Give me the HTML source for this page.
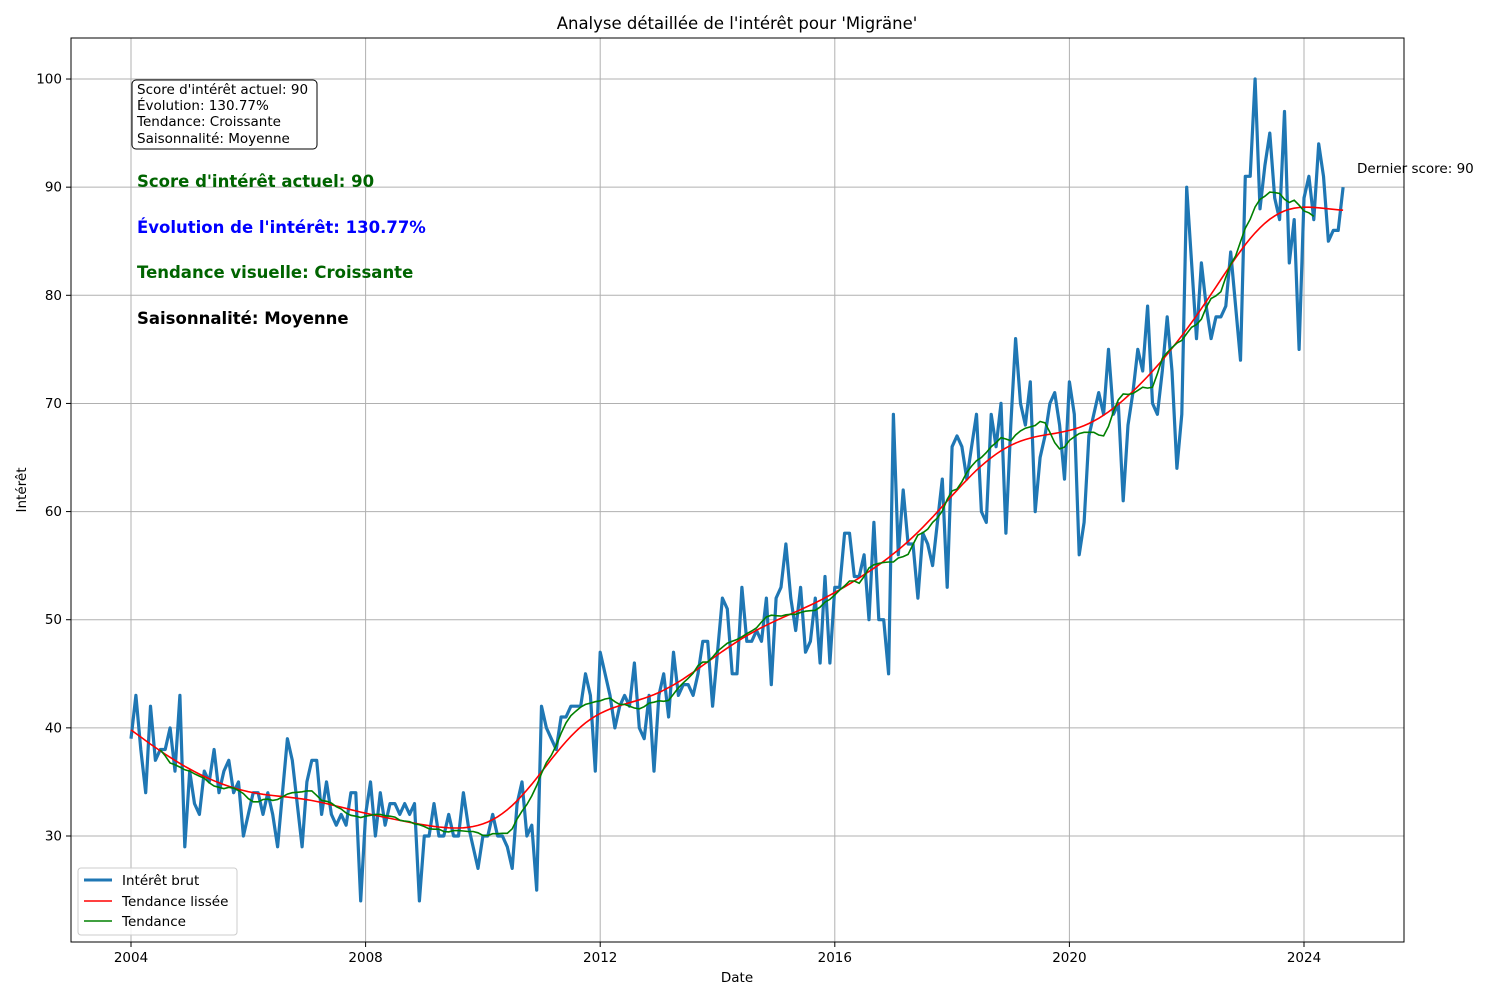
<!DOCTYPE html>
<html><head><meta charset="utf-8"><style>
body{margin:0;background:#fff;}
svg text{font-family:"DejaVu Sans","Liberation Sans",sans-serif;}
</style></head><body>
<svg id="chart" width="1500" height="1000" xmlns="http://www.w3.org/2000/svg">
<rect width="1500" height="1000" fill="#fff"/>
<g id="grid"></g>
<g id="series"></g>
<rect x="71" y="38" width="1333" height="904" fill="none" stroke="#000" stroke-width="1"/>
<g id="axes"></g>
<text x="737" y="29" text-anchor="middle" font-size="16.5">Analyse détaillée de l'intérêt pour 'Migräne'</text>
<text x="737" y="982" text-anchor="middle" font-size="13.5">Date</text>
<text x="26" y="490" text-anchor="middle" font-size="13.5" transform="rotate(-90 26 490)">Intérêt</text>
<g>
<rect x="132" y="80" width="185" height="69" rx="4" fill="#fff" stroke="#000" stroke-width="1"/>
<text x="137" y="94" font-size="13.5">Score d'intérêt actuel: 90</text>
<text x="137" y="110" font-size="13.5">Évolution: 130.77%</text>
<text x="137" y="126" font-size="13.5">Tendance: Croissante</text>
<text x="137" y="143" font-size="13.5">Saisonnalité: Moyenne</text>
</g>
<text x="137" y="187" font-size="16.5" font-weight="bold" fill="#006400">Score d'intérêt actuel: 90</text>
<text x="137" y="233" font-size="16.5" font-weight="bold" fill="#0000ff">Évolution de l'intérêt: 130.77%</text>
<text x="137" y="278" font-size="16.5" font-weight="bold" fill="#006400">Tendance visuelle: Croissante</text>
<text x="137" y="324" font-size="16.5" font-weight="bold" fill="#000">Saisonnalité: Moyenne</text>
<text x="1357" y="173" font-size="13.5">Dernier score: 90</text>
<g>
<rect x="78" y="868" width="159" height="67" rx="3" fill="#fff" fill-opacity="0.85" stroke="#ccc"/>
<line x1="84" y1="880" x2="112" y2="880" stroke="#1f77b4" stroke-width="3"/>
<text x="122" y="885" font-size="13.5">Intérêt brut</text>
<line x1="84" y1="901" x2="112" y2="901" stroke="#ff0000" stroke-width="1.5"/>
<text x="122" y="906" font-size="13.5">Tendance lissée</text>
<line x1="84" y1="921" x2="112" y2="921" stroke="#008000" stroke-width="1.5"/>
<text x="122" y="926" font-size="13.5">Tendance</text>
</g>
</svg>
<script>
const startYear = 2004;
const xTicks = [2004, 2008, 2012, 2016, 2020, 2024];
const yTicks = [30, 40, 50, 60, 70, 80, 90, 100];
const rawValues = [
39,43,38,34,42,37,38,38,40,36,43,29,
36,33,32,36,35,38,34,36,37,34,35,30,
32,34,34,32,34,32,29,34,39,37,33,29,
35,37,37,32,35,32,31,32,31,34,34,24,
32,35,30,34,31,33,33,32,33,32,33,24,
30,30,33,30,30,32,30,30,34,31,29,27,
30,30,32,30,30,29,27,33,35,30,31,25,
42,40,39,38,41,41,42,42,42,45,43,36,
47,45,43,40,42,43,42,46,40,39,43,36,
43,45,41,47,43,44,44,43,45,48,48,42,
47,52,51,45,45,53,48,48,49,48,52,44,
52,53,57,52,49,53,47,48,52,46,54,46,
53,53,58,58,54,54,56,50,59,50,50,45,
69,56,62,57,57,52,58,57,55,59,63,53,
66,67,66,63,66,69,60,59,69,66,70,58,
68,76,70,68,72,60,65,67,70,71,68,63,
72,69,56,59,67,69,71,69,75,69,70,61,
68,71,75,73,79,70,69,73,78,73,64,69,
90,83,76,83,79,76,78,78,79,84,79,74,
91,91,100,88,92,95,89,87,97,83,87,75,
89,91,87,94,91,85,86,86,90];

const X0=131, PX_PER_YEAR=58.65, Y30=836, PX_PER_UNIT=10.814;
function xs(t){return X0+(t-startYear)*PX_PER_YEAR;}
function ys(v){return Y30-(v-30)*PX_PER_UNIT;}
function mt(i){return startYear+i/12;}
const NS="http://www.w3.org/2000/svg";
const grid=document.getElementById('grid'), axes=document.getElementById('axes'), series=document.getElementById('series');
function mk(tag,attrs,parent){const e=document.createElementNS(NS,tag);for(const k in attrs)e.setAttribute(k,attrs[k]);parent.appendChild(e);return e;}

xTicks.forEach(t=>{
  const x=xs(t);
  const g=mk('line',{x1:x,y1:38,x2:x,y2:942,stroke:'#b0b0b0','stroke-width':1},grid);
  
  
  mk('line',{x1:x,y1:942,x2:x,y2:947,stroke:'#000'},axes);
  const tx=mk('text',{x:x,y:962,'text-anchor':'middle','font-size':13.5},axes);
  tx.textContent=t;
  
  
});
yTicks.forEach(v=>{
  const y=ys(v);
  const g=mk('line',{x1:71,y1:y,x2:1404,y2:y,stroke:'#b0b0b0','stroke-width':1},grid);
  
  
  mk('line',{x1:66,y1:y,x2:71,y2:y,stroke:'#000'},axes);
  const tx=mk('text',{x:62,y:y+4.5,'text-anchor':'end','font-size':13.5},axes);
  tx.textContent=v;
  
  
});

// smoothed trend: locally linear gaussian-weighted regression
const smooth=rawValues.map((_,i)=>{let sw=0,sx=0,sy=0,sxx=0,sxy=0;for(let j=0;j<rawValues.length;j++){const d=(j-i)/8;const w=Math.exp(-d*d/2);sw+=w;sx+=w*(j-i);sy+=w*rawValues[j];sxx+=w*(j-i)*(j-i);sxy+=w*(j-i)*rawValues[j];}const den=sw*sxx-sx*sx;const b=(sw*sxy-sx*sy)/den;return (sy-b*sx)/sw;});
// 12-month centered rolling mean
const rolling=[];
for(let i=6;i<=rawValues.length-7;i++){let s=0;for(let j=i-6;j<i+6;j++)s+=rawValues[j];rolling.push([i,(s+(rawValues[i+6]-rawValues[i-6])/2)/12]);}

function path(pts){return pts.map((p,k)=>(k?'L':'M')+xs(mt(p[0])).toFixed(1)+','+ys(p[1]).toFixed(1)).join('');}
const raw=mk('path',{d:path(rawValues.map((v,i)=>[i,v])),fill:'none',stroke:'#1f77b4','stroke-width':3.2,'stroke-linejoin':'round'},series);


const sm=mk('path',{d:path(smooth.map((v,i)=>[i,v])),fill:'none',stroke:'#ff0000','stroke-width':1.6},series);


const rl=mk('path',{d:path(rolling),fill:'none',stroke:'#008000','stroke-width':1.6},series);


</script>
</body></html>
